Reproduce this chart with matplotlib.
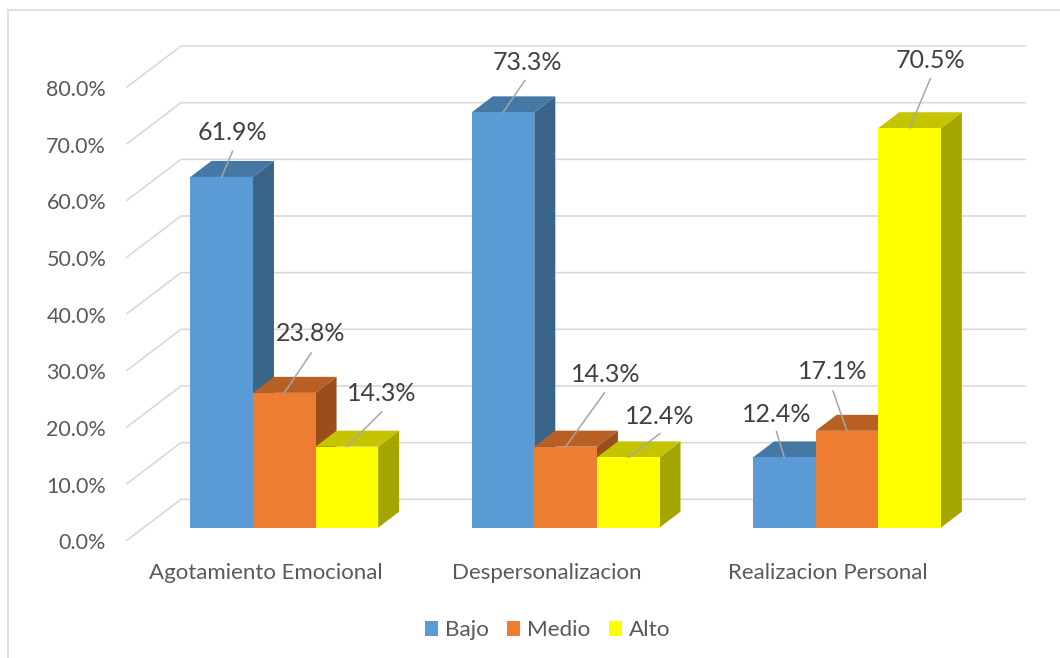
import matplotlib
matplotlib.use("Agg")
import matplotlib.pyplot as plt
from matplotlib.lines import Line2D
from matplotlib.patches import Polygon, Patch
from matplotlib.transforms import ScaledTranslation

categories = ["Agotamiento Emocional", "Despersonalizacion", "Realizacion Personal"]
series_names = ["Bajo", "Medio", "Alto"]
bajo = [61.9, 73.3, 12.4]
medio = [23.8, 14.3, 17.1]
alto = [14.3, 12.4, 70.5]
y_ticks = [0, 10, 20, 30, 40, 50, 60, 70, 80]

front_colors = ["#5B9BD5", "#ED7D31", "#FFFF00"]
top_colors = ["#4678A6", "#B85F24", "#C4C400"]
side_colors = ["#3A6488", "#9A4E1C", "#A5A500"]

# (text dx, text dy, leader dx, leader dy) in pixels from each bar's top-centre
label_offsets = [
    [(11, 44, 11, 26), (26, 59, 27, 40), (35, 53, 35, 35)],
    [(24, 50, 22, 32), (40, 72, 39, 54), (32, 41, 32, 24)],
    [(-8, 43, -8, 26), (-14, 59, -14, 40), (21, 68, 21, 50)],
]

W, H = 1060, 658
plt.rcParams["font.family"] = ["Lato", "DejaVu Sans"]
fig = plt.figure(figsize=(W / 100, H / 100), dpi=100)
L, R, B, T = 127, 971, 540.3, 87
ax = fig.add_axes([L / W, 1 - B / H, (R - L) / W, (B - T) / H])
ax.set_xlim(0, 3)
ax.set_ylim(0, 80)
for s in ax.spines.values():
    s.set_visible(False)
ax.patch.set_visible(False)

px = 3 / (R - L)
py = 80 / (B - T)
wall_dx, wall_dy = 54 * px, 41 * py
floor_dx, floor_dy = 16.6 * px, 12.6 * py
depth_dx, depth_dy = 21 * px, 16 * py
bar_w = 62.6 * px

grid = "#D9D9D9"
for v in y_ticks:
    ax.plot([0, wall_dx, 3 + wall_dx], [v, v + wall_dy, v + wall_dy], color=grid, lw=1.2,
            clip_on=False, zorder=1, solid_joinstyle="miter")

ax.set_xticks([c + 0.5 - 2.3 * px for c in range(len(categories))], categories)
ax.set_yticks(y_ticks, [f"{v:.1f}%" for v in y_ticks])
ax.tick_params(axis="y", length=0, pad=15, labelsize=15.5, labelcolor="#595959")
ax.tick_params(axis="x", length=0, pad=16, labelsize=16, labelcolor="#595959")
nudge = ScaledTranslation(0, -1 / 72 * 0.72, fig.dpi_scale_trans)
for t in ax.get_yticklabels():
    t.set_transform(t.get_transform() + nudge)

values = [bajo, medio, alto]
z = 2
annots = []
for c in range(len(categories)):
    for s in range(len(series_names)):
        v = values[s][c]
        x0 = c + 0.5 + floor_dx + (s - 1.5) * bar_w
        x1 = x0 + bar_w
        y0 = floor_dy
        y1 = floor_dy + v
        side = [(x1, y0), (x1 + depth_dx, y0 + depth_dy), (x1 + depth_dx, y1 + depth_dy), (x1, y1)]
        top = [(x0, y1), (x1, y1), (x1 + depth_dx, y1 + depth_dy), (x0 + depth_dx, y1 + depth_dy)]
        front = [(x0, y0), (x1, y0), (x1, y1), (x0, y1)]
        for pts, col in ((side, side_colors[s]), (top, top_colors[s]), (front, front_colors[s])):
            ax.add_patch(Polygon(pts, closed=True, fc=col, ec="none", zorder=z, clip_on=False))
            z += 1
        annots.append((x0 + bar_w / 2, y1, v, label_offsets[c][s]))

for xc, yt, v, (tx, ty, lx, ly) in annots:
    ax.annotate("", xy=(xc, yt), xytext=(lx, ly), textcoords="offset pixels",
                arrowprops=dict(arrowstyle="-", color="#A6A6A6", lw=1.1, shrinkA=0, shrinkB=0),
                zorder=100, annotation_clip=False)
    ax.annotate(f"{v:.1f}%", xy=(xc, yt), xytext=(tx, ty), textcoords="offset pixels",
                ha="center", va="center", fontsize=18, color="#404040", zorder=101,
                annotation_clip=False)

handles = [Patch(fc=c, ec="none", label=n) for c, n in zip(front_colors, series_names)]
fig.legend(handles=handles, loc="center", bbox_to_anchor=(547.5 / W, 1 - 630.5 / H), ncol=3,
           frameon=False, fontsize=16.2, labelcolor="#595959", handlelength=0.6, handleheight=0.6,
           handletextpad=0.3, columnspacing=0.8, borderpad=0)

fig.add_artist(Line2D([8 / W, 8 / W], [0, 1 - 10 / H], color="#D9D9D9", lw=1.2))
fig.add_artist(Line2D([8 / W, 1], [1 - 10 / H, 1 - 10 / H], color="#D9D9D9", lw=1.2))

fig.savefig("out.png", dpi=100)
